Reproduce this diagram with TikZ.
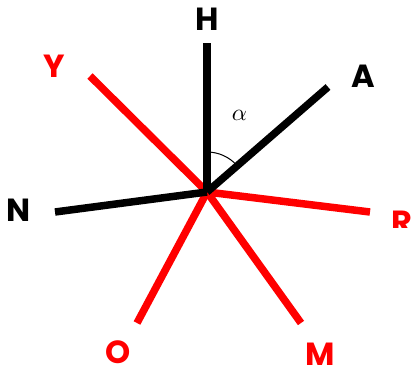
\documentclass[tikz,border=0pt]{standalone}
\usepackage{fontspec}
\newfontfamily\labfont{Poppins}[BoldFont={* Bold}]
\begin{document}
\begin{tikzpicture}[x=1pt,y=-1pt,
  ray/.style={line width=7.5pt},
  redray/.style={ray,draw={rgb,255:red,255;green,0;blue,0}},
  blackray/.style={ray,draw=black},
  lab/.style={inner sep=0pt,font=\labfont\bfseries\fontsize{32}{32}\selectfont},
  redlab/.style={lab,text={rgb,255:red,255;green,0;blue,0}},
  blacklab/.style={lab,text=black}]
\useasboundingbox (0,0) rectangle (411,364);
\coordinate (C) at (207,192);
\coordinate (pH) at (207,43);
\coordinate (pA) at (328,87);
\coordinate (pY) at (90,76);
\coordinate (pN) at (55,212);
\coordinate (pR) at (370,212);
\coordinate (pO) at (137,323);
\coordinate (pM) at (301,323);
\draw[redray] (C) -- (pY);
\draw[redray] (C) -- (pR);
\draw[redray] (C) -- (pO);
\draw[redray] (C) -- (pM);
\draw[blackray] (C) -- (pH);
\draw[blackray] (C) -- (pA);
\draw[blackray] (C) -- (pN);
\draw[line width=1pt] (C) ++(0,-40) arc[start angle=-90,end angle=-41,radius=40];
\node[inner sep=0pt,scale=2.35] (alpha) at (239.5,115.5) {$\alpha$};
\node[blacklab] (H) at (207.5,19.5) {H};
\node[blacklab] (A) at (363,76) {A};
\node[redlab] (Y) at (54,66) {Y};
\node[blacklab] (N) at (19,210) {N};
\begin{scope}
\clip (380,200) rectangle (411,227);
\node[redlab] (R) at (401.5,222.5) {R};
\end{scope}
\node[redlab] (O) at (118,352.5) {O};
\node[redlab] (M) at (320,354.5) {M};
\end{tikzpicture}
\end{document}
